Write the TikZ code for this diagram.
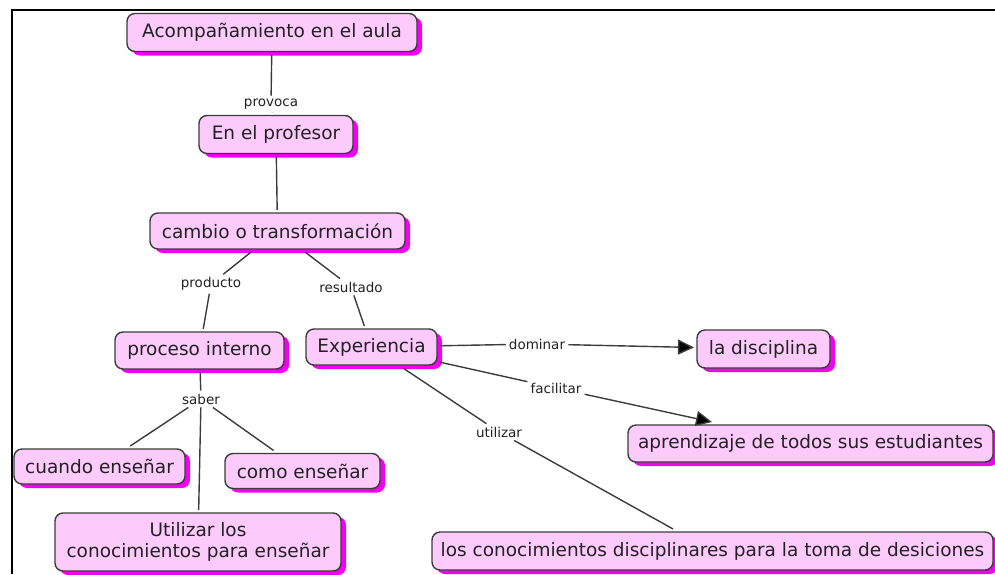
\documentclass[tikz,border=0pt]{standalone}
\usepackage{fontspec}
\setmainfont{DejaVu Sans}
\usetikzlibrary{shadows,arrows.meta}
\definecolor{nodefill}{HTML}{FCCBFC}
\definecolor{nodeline}{HTML}{3C3C3C}
\definecolor{shadowmag}{HTML}{F200F0}
\definecolor{txt}{HTML}{222222}
\tikzset{
 concept/.style={draw=nodeline, line width=1.4pt, fill=nodefill, rounded corners=8pt,
   text=txt, font=\fontsize{18.5}{21}\selectfont, inner sep=0pt, outer sep=3pt, align=center,
   drop shadow={shadow xshift=5pt, shadow yshift=-4pt, fill=shadowmag, opacity=1}},
 lbl/.style={font=\fontsize{13.5}{15}\selectfont, text=txt, inner sep=3pt},
 conn/.style={draw=nodeline, line width=1.4pt},
 arr/.style={conn, -{Triangle[length=16pt,width=15pt,fill=black]}}
}
\begin{document}
\begin{tikzpicture}[x=1pt,y=-1pt]
\useasboundingbox (0,0) rectangle (995,574);
\draw[line width=2pt] (11.5,574) -- (11.5,10) -- (995,10);

\node[concept, minimum width=290pt, minimum height=38pt] (acomp) at (272,32.5) {Acompañamiento en el aula};
\node[concept, minimum width=154pt, minimum height=38pt] (prof) at (276,134.5) {En el profesor};
\node[concept, minimum width=255pt, minimum height=36pt] (cambio) at (277.5,231) {cambio o transformación};
\node[concept, minimum width=169pt, minimum height=37pt] (proceso) at (199.5,350.5) {proceso interno};
\node[concept, minimum width=131pt, minimum height=36pt] (exper) at (371.5,347) {Experiencia};
\node[concept, minimum width=133pt, minimum height=38pt] (disc) at (763.5,349) {la disciplina};
\node[concept, minimum width=365pt, minimum height=37pt] (aprend) at (810.5,443.5) {aprendizaje de todos sus estudiantes};
\node[concept, minimum width=561pt, minimum height=38pt] (conoc) at (712.5,551) {los conocimientos disciplinares para la toma de desiciones};
\node[concept, minimum width=171pt, minimum height=35pt] (cuando) at (99.5,466.5) {cuando enseñar};
\node[concept, minimum width=155pt, minimum height=35pt] (como) at (302.5,471) {como enseñar};
\node[concept, minimum width=286pt, minimum height=58pt] (util) at (198,542) {Utilizar los\\conocimientos para enseñar};

\node[lbl] (provoca) at (271,104) {provoca};
\node[lbl] (producto) at (211,284) {producto};
\node[lbl] (resultado) at (351,287) {resultado};
\node[lbl] (saber) at (201,399) {saber};
\node[lbl] (dominar) at (537,344) {dominar};
\node[lbl] (facilitar) at (556,388) {facilitar};
\node[lbl] (utilizar) at (499,432) {utilizar};

\draw[conn] (acomp) -- (provoca);
\draw[conn] (provoca) -- (prof);
\draw[conn] (prof) -- (cambio);
\draw[conn] (cambio) -- (producto);
\draw[conn] (producto) -- (proceso);
\draw[conn] (cambio) -- (resultado);
\draw[conn] (resultado) -- (exper);
\draw[conn] (proceso) -- (saber);
\draw[conn] (saber) -- (cuando);
\draw[conn] (saber) -- (como);
\draw[conn] (saber) -- (util);
\draw[conn] (exper) -- (dominar);
\draw[arr] (dominar) -- (disc);
\draw[conn] (exper) -- (facilitar);
\draw[arr] (facilitar) -- (aprend);
\draw[conn] (exper) -- (utilizar);
\draw[conn] (utilizar) -- (conoc);
\end{tikzpicture}
\end{document}
